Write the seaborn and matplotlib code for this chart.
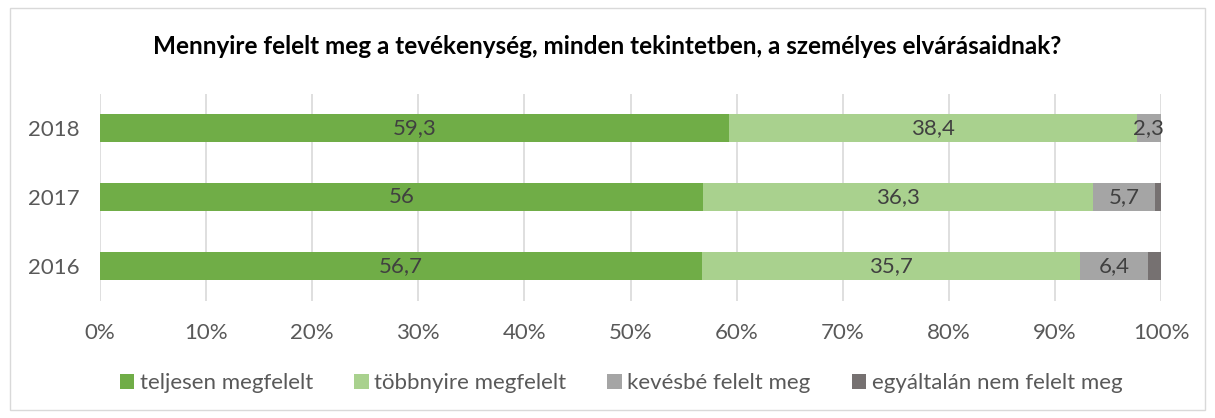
import matplotlib
matplotlib.use("Agg")
import matplotlib.pyplot as plt
from matplotlib.patches import Rectangle, Patch
import seaborn as sns
import numpy as np
import pandas as pd

years = ["2018", "2017", "2016"]
series_names = ["teljesen megfelelt", "többnyire megfelelt", "kevésbé felelt meg", "egyáltalán nem felelt meg"]
teljesen = [59.3, 56, 56.7]
tobbnyire = [38.4, 36.3, 35.7]
kevesbe = [2.3, 5.7, 6.4]
egyaltalan = [0.0, 0.6, 1.2]
colors = ["#70AD47", "#A9D18E", "#A5A5A5", "#767171"]
title = "Mennyire felelt meg a tevékenység, minden tekintetben, a személyes elvárásaidnak?"

sns.set_theme(style="white")
plt.rcParams["font.family"] = ["Lato", "DejaVu Sans"]

vals = np.array([teljesen, tobbnyire, kevesbe, egyaltalan], dtype=float)
totals = vals.sum(axis=0)
pct = vals / totals * 100
cum = np.cumsum(pct, axis=0)

fig = plt.figure(figsize=(12.15, 4.18), dpi=100)
ax = fig.add_axes([100/1215, 1-300.5/418, 1061/1215, 207/418])

for i in range(3, -1, -1):
    df = pd.DataFrame({"year": years, "x": cum[i]})
    sns.barplot(data=df, x="x", y="year", order=years, orient="h",
                color=colors[i], width=0.41, ax=ax, zorder=3, linewidth=0,
                saturation=1)

# data labels
for i in range(3):
    for j, y in enumerate(years):
        if vals[i, j] > 0:
            center = cum[i, j] - pct[i, j] / 2
            lab = f"{vals[i, j]:g}".replace(".", ",")
            ax.text(center, j, lab, ha="center", va="center",
                    fontsize=16, color="#404040", zorder=5)

ax.set_xlim(0, 100)
ax.set_xticks(np.arange(0, 101, 10))
ax.set_xticklabels([f"{t}%" for t in range(0, 101, 10)])
ax.xaxis.grid(True, color="#D9D9D9", linewidth=1.2, zorder=0)
ax.set_axisbelow(True)
ax.yaxis.grid(False)
for s in ax.spines.values():
    s.set_visible(False)
ax.set_xlabel("")
ax.set_ylabel("")
ax.tick_params(axis="x", labelsize=16, colors="#595959", length=0, pad=16)
ax.tick_params(axis="y", labelsize=16, colors="#595959", length=0, pad=15)

fig.text(0.5, 1-47/418, title, ha="center", va="center",
         fontsize=17.5, fontweight="bold", color="#000000")

handles = [Patch(facecolor=c, edgecolor="none") for c in colors]
fig.legend(handles, series_names, loc="center", bbox_to_anchor=(621/1215, 1-383/418),
           ncol=4, frameon=False, fontsize=16, handlelength=0.65, handleheight=0.65,
           handletextpad=0.25, columnspacing=1.85, labelcolor="#595959")

fig.patches.append(Rectangle((10/1215, 8/418), 1195/1215, 402/418, transform=fig.transFigure,
                             fill=False, edgecolor="#D9D9D9", linewidth=1))

fig.savefig("out.png", dpi=100)
